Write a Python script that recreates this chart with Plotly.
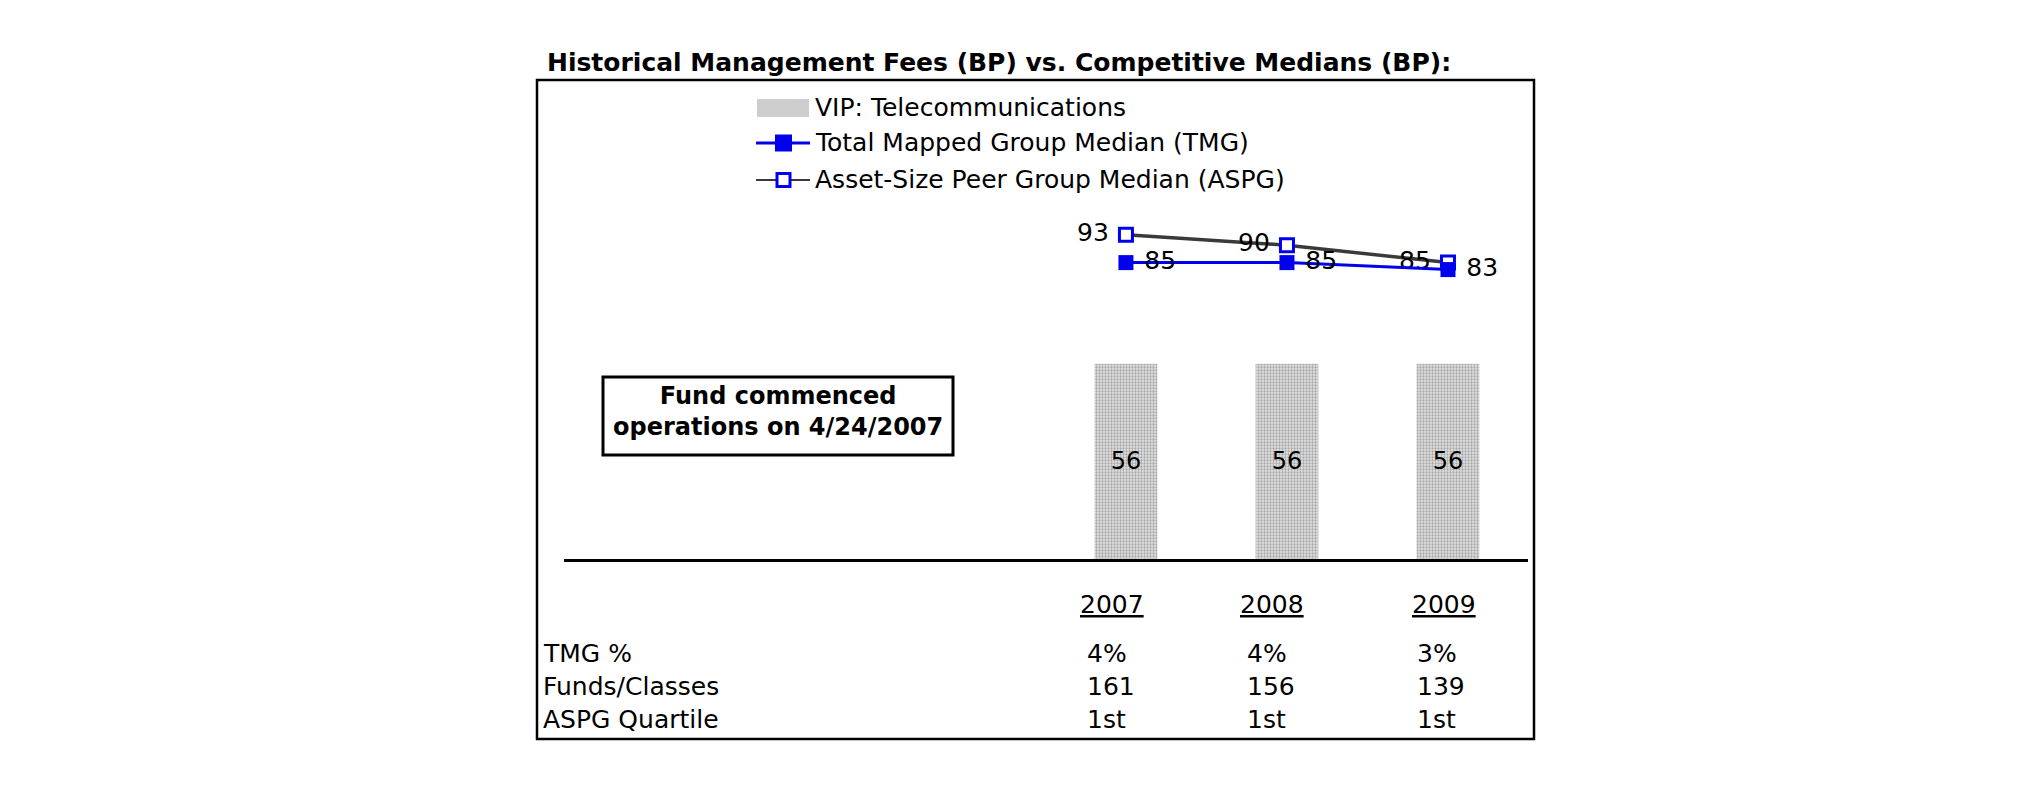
import plotly.graph_objects as go

# ---- data ----
years = ["2007", "2008", "2009"]
vip_fees = [56, 56, 56]
tmg_median = [85, 85, 83]
aspg_median = [93, 90, 85]
tmg_pct = ["4%", "4%", "3%"]
funds_classes = ["161", "156", "139"]
aspg_quartile = ["1st", "1st", "1st"]
row_labels = ["TMG %", "Funds/Classes", "ASPG Quartile"]
legend_names = ["VIP: Telecommunications", "Total Mapped Group Median (TMG)",
                "Asset-Size Peer Group Median (ASPG)"]

W, H = 2025, 806
OFF = 8  # page body margin
L, R, T, B = 564, 1528, 90, 559  # plot area in screen pixels
FONT = "Verdana, DejaVu Sans, sans-serif"
BLUE = "#0000ee"
GRAY = "#3a3a3a"

def px(x):
    return (x - L) / (R - L)

def py(y):
    return (B - y) / (B - T)

fig = go.Figure()

fig.add_trace(go.Bar(
    x=years, y=vip_fees, name=legend_names[0],
    width=0.39,
    marker=dict(line=dict(width=0),
                pattern=dict(shape=".", fgcolor="#6e6e6e", bgcolor="#e0e0e0", size=3, solidity=0.45)),
    text=[str(v) for v in vip_fees], textposition="inside", insidetextanchor="middle",
    textfont=dict(size=24, color="black", family=FONT), cliponaxis=False,
))

fig.add_trace(go.Scatter(
    x=years, y=aspg_median, name=legend_names[2],
    mode="lines+markers+text",
    line=dict(color=GRAY, width=3.5),
    marker=dict(symbol="square", size=13, color="white", line=dict(color=BLUE, width=3)),
    text=[f"{v} " for v in aspg_median], textposition="middle left",
    textfont=dict(size=25, color="black", family=FONT), cliponaxis=False,
))

fig.add_trace(go.Scatter(
    x=years, y=tmg_median, name=legend_names[1],
    mode="lines+markers+text",
    line=dict(color=BLUE, width=3),
    marker=dict(symbol="square", size=15, color=BLUE),
    text=[f" {v}" for v in tmg_median], textposition="middle right",
    textfont=dict(size=25, color="black", family=FONT), cliponaxis=False,
))

ann = []
shapes = []

# title
ann.append(dict(x=px(545), y=py(62), xref="paper", yref="paper", xanchor="left", yanchor="middle",
                text="<b>Historical Management Fees (BP) vs. Competitive Medians (BP):</b>",
                showarrow=False, font=dict(size=25, family=FONT, color="black")))

# outer box
shapes.append(dict(type="rect", xref="paper", yref="paper",
                   x0=px(537), x1=px(1534), y0=py(80), y1=py(739),
                   line=dict(color="black", width=2.5)))

# custom legend
leg_y = [108, 143, 180]
shapes.append(dict(type="rect", xref="paper", yref="paper",
                   x0=px(757), x1=px(809), y0=py(leg_y[0] - 9), y1=py(leg_y[0] + 9),
                   fillcolor="#cdcdcd", line=dict(width=0)))
shapes.append(dict(type="line", xref="paper", yref="paper",
                   x0=px(756), x1=px(810), y0=py(leg_y[1]), y1=py(leg_y[1]),
                   line=dict(color=BLUE, width=3)))
shapes.append(dict(type="rect", xref="paper", yref="paper",
                   x0=px(775), x1=px(792), y0=py(leg_y[1] - 8.5), y1=py(leg_y[1] + 8.5),
                   fillcolor=BLUE, line=dict(width=0)))
shapes.append(dict(type="line", xref="paper", yref="paper",
                   x0=px(756), x1=px(810), y0=py(leg_y[2]), y1=py(leg_y[2]),
                   line=dict(color=GRAY, width=2)))
shapes.append(dict(type="rect", xref="paper", yref="paper",
                   x0=px(777), x1=px(790), y0=py(leg_y[2] - 6.5), y1=py(leg_y[2] + 6.5),
                   fillcolor="white", line=dict(color=BLUE, width=3)))
for name, yy in zip(legend_names, leg_y):
    ann.append(dict(x=px(813), y=py(yy), xref="paper", yref="paper", xanchor="left", yanchor="middle",
                    text=name, showarrow=False, font=dict(size=25, family=FONT, color="black")))

# note box
shapes.append(dict(type="rect", xref="paper", yref="paper",
                   x0=px(603), x1=px(953), y0=py(377), y1=py(455),
                   line=dict(color="black", width=3)))
ann.append(dict(x=px(778), y=py(411), xref="paper", yref="paper", xanchor="center", yanchor="middle",
                text="<b>Fund commenced<br>operations on 4/24/2007</b>", showarrow=False,
                font=dict(size=24, family=FONT, color="black")))

# table
year_x = [1078, 1238, 1410]
val_x = [1085, 1245, 1415]
for i, yr in enumerate(years):
    ann.append(dict(x=px(year_x[i]), y=py(604), xref="paper", yref="paper", xanchor="left", yanchor="middle",
                    text=f"<u>{yr}</u>", showarrow=False, font=dict(size=25, family=FONT, color="black")))

row_y = [653, 686, 719]
rows = [tmg_pct, funds_classes, aspg_quartile]
for r, lab in enumerate(row_labels):
    ann.append(dict(x=px(541), y=py(row_y[r]), xref="paper", yref="paper", xanchor="left", yanchor="middle",
                    text=lab, showarrow=False, font=dict(size=25, family=FONT, color="black")))
    for i in range(3):
        ann.append(dict(x=px(val_x[i]), y=py(row_y[r]), xref="paper", yref="paper", xanchor="left",
                        yanchor="middle", text=rows[r][i], showarrow=False,
                        font=dict(size=25, family=FONT, color="black")))

fig.update_layout(
    width=W, height=H,
    margin=dict(l=L - OFF, r=W - (R - OFF), t=T - OFF, b=H - (B - OFF), pad=0),
    paper_bgcolor="white", plot_bgcolor="white",
    showlegend=False,
    xaxis=dict(type="category", range=[-3.49, 2.497], showgrid=False, zeroline=False,
               showticklabels=False, ticks="", showline=True, linecolor="black", linewidth=2.5),
    yaxis=dict(range=[0, (B - T) / 3.487], showgrid=False, zeroline=False, visible=False),
    annotations=ann, shapes=shapes,
)

fig.write_html("out.html")
